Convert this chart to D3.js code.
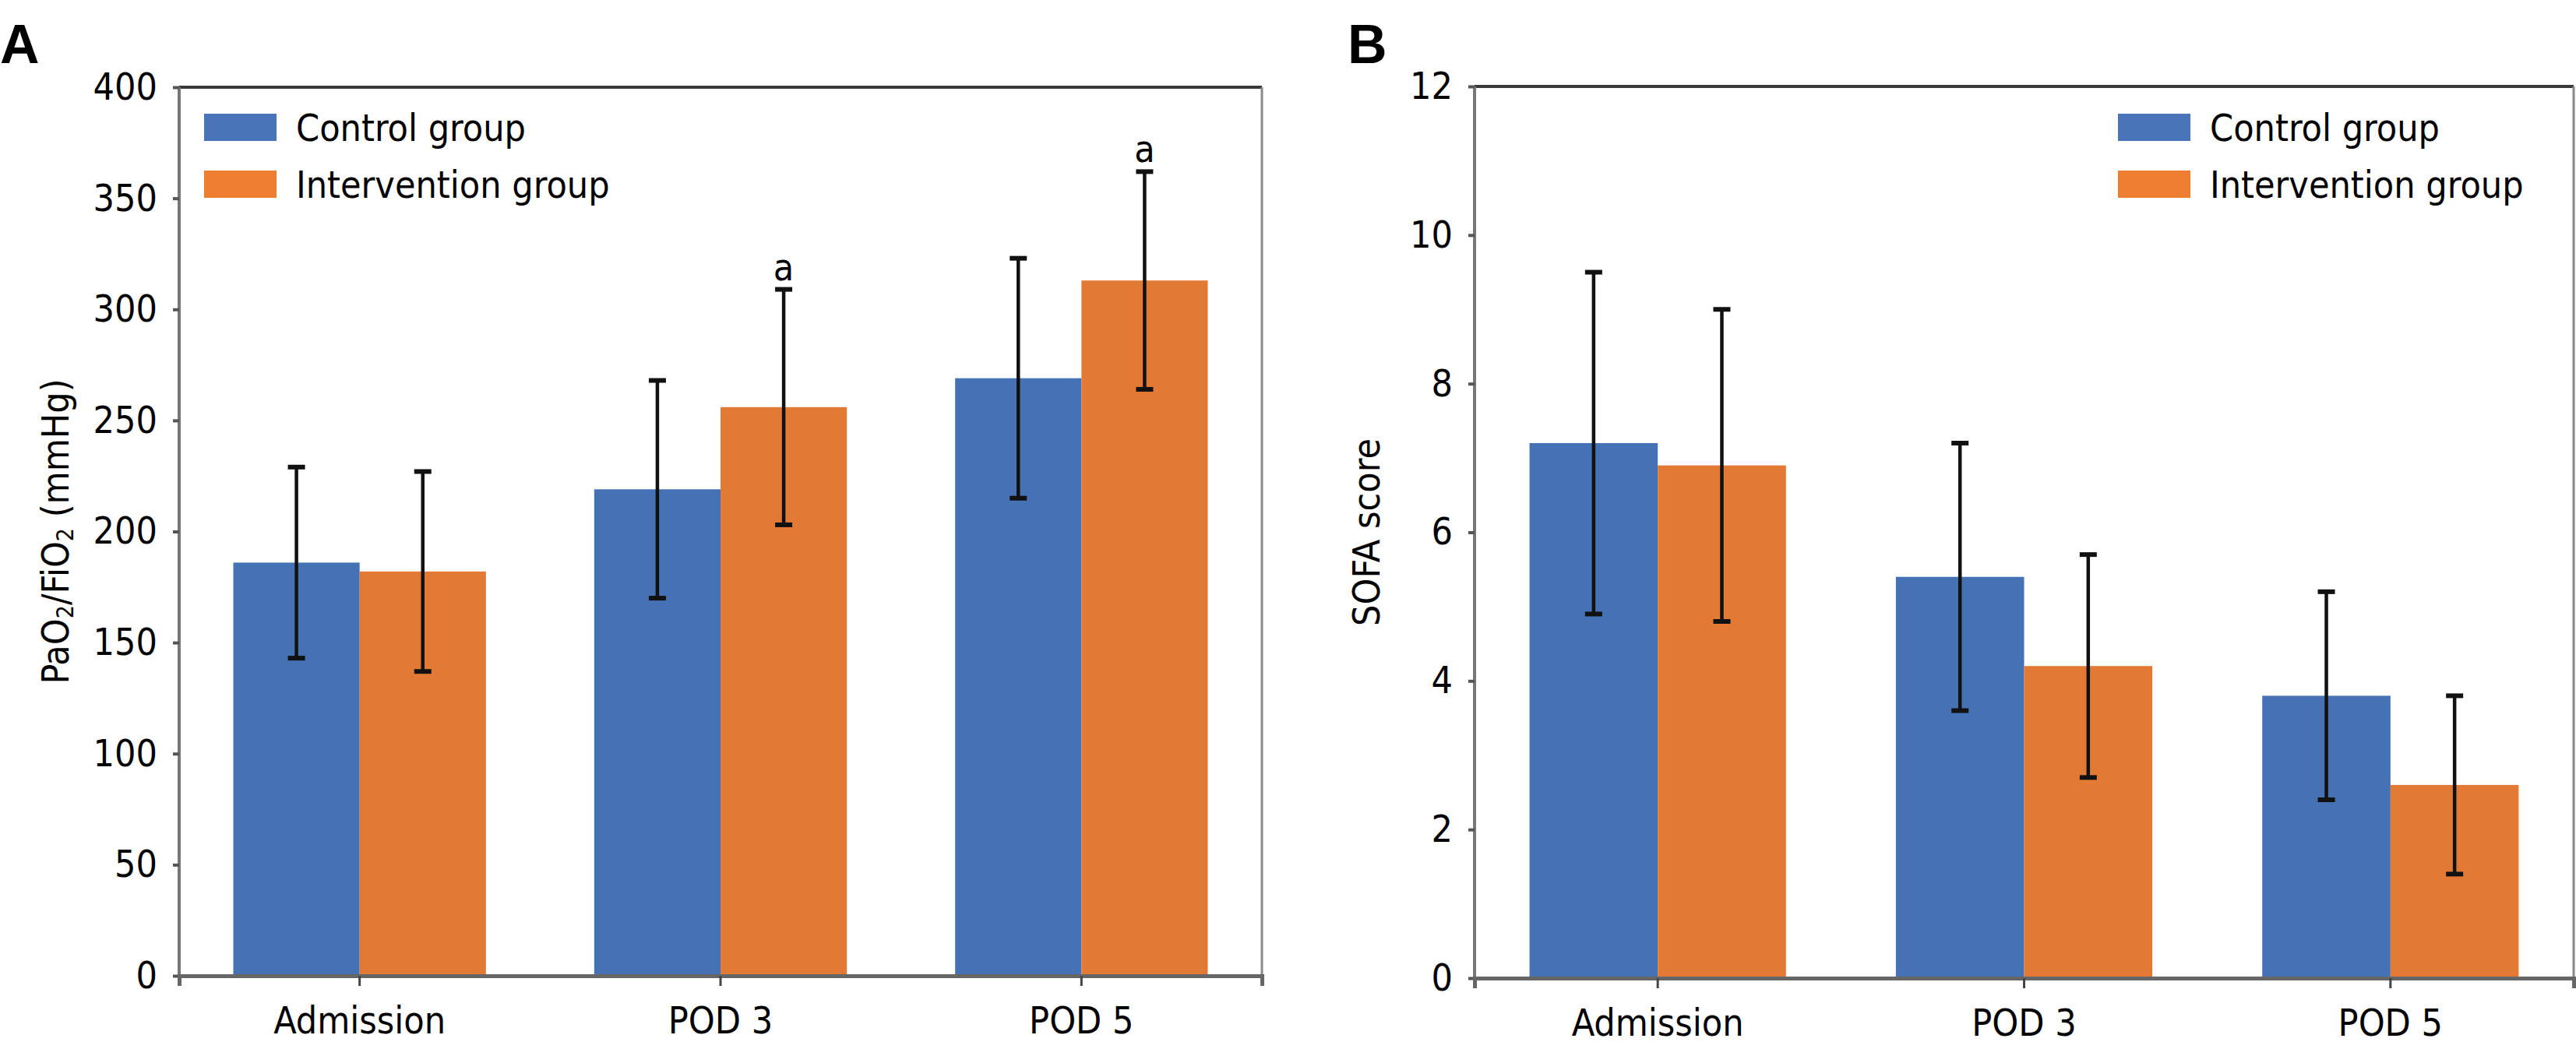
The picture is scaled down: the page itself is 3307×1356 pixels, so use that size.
<!DOCTYPE html>
<html lang="en">
<head>
<meta charset="UTF-8">
<title>PaO2/FiO2 and SOFA score</title>
<style>
  body { margin: 0; background: #fff; }
  svg text { font-family: "DejaVu Sans Condensed", "DejaVu Sans", sans-serif; font-stretch: condensed; fill: #000; }
  .panel-letter { font-family: "Liberation Sans", Arial, sans-serif; font-stretch: normal; font-weight: bold; }
</style>
</head>
<body>
<svg id="chart" width="3307" height="1356"></svg>
<script src="https://cdnjs.cloudflare.com/ajax/libs/d3/7.9.0/d3.min.js"></script>
<script>
// values
const categories = ["Admission", "POD 3", "POD 5"];
const seriesNames = ["Control group", "Intervention group"];

const pfControl = [186, 219, 269];
const pfControlSD = [43, 49, 54];
const pfIntervention = [182, 256, 313];
const pfInterventionSD = [45, 53, 49];
const pfMarks = ["", "a", "a"];          // over intervention bars
const pfTicks = [0, 50, 100, 150, 200, 250, 300, 350, 400];

const sofaControl = [7.2, 5.4, 3.8];
const sofaControlSD = [2.3, 1.8, 1.4];
const sofaIntervention = [6.9, 4.2, 2.6];
const sofaInterventionSD = [2.1, 1.5, 1.2];
const sofaMarks = ["", "", ""];
const sofaTicks = [0, 2, 4, 6, 8, 10, 12];

const barColors = ["#4571b5", "#e27a35"];
const keyColors = ["#4a74b8", "#ec7d31"];

const svg = d3.select("#chart");

function drawPanel(p) {
  const g = svg.append("g");

  const x0 = d3.scaleBand().domain(categories)
    .range([p.left, p.right]).paddingInner(0.3).paddingOuter(0.15);
  const x1 = d3.scaleBand().domain([0, 1]).range([0, x0.bandwidth()]);
  const y = d3.scaleLinear().domain([0, p.max]).range([p.bottom, p.top]);

  const rows = categories.map((c, i) => ({
    cat: c,
    vals: [
      { s: 0, v: p.control[i], e: p.controlSD[i], mark: "" },
      { s: 1, v: p.intervention[i], e: p.interventionSD[i], mark: p.marks[i] }
    ]
  }));

  // bars
  const grp = g.selectAll(".grp").data(rows).enter().append("g")
    .attr("transform", d => `translate(${x0(d.cat)},0)`);
  grp.selectAll("rect").data(d => d.vals).enter().append("rect")
    .attr("x", d => x1(d.s))
    .attr("width", x1.bandwidth())
    .attr("y", d => y(d.v))
    .attr("height", d => y(0) - y(d.v))
    .attr("fill", d => barColors[d.s]);

  // error bars
  const cap = 11;
  const eb = grp.selectAll(".eb").data(d => d.vals).enter().append("g")
    .attr("transform", d => `translate(${x1(d.s) + x1.bandwidth() / 2},0)`)
    .attr("stroke", "#111").attr("stroke-width", 4.5);
  eb.append("line").attr("y1", d => y(d.v - d.e)).attr("y2", d => y(d.v + d.e));
  eb.append("line").attr("x1", -cap).attr("x2", cap)
    .attr("y1", d => y(d.v + d.e)).attr("y2", d => y(d.v + d.e)).attr("stroke-width", 6);
  eb.append("line").attr("x1", -cap).attr("x2", cap)
    .attr("y1", d => y(d.v - d.e)).attr("y2", d => y(d.v - d.e)).attr("stroke-width", 6);

  // significance marks
  grp.selectAll(".mark").data(d => d.vals.filter(v => v.mark)).enter().append("text")
    .attr("x", d => x1(d.s) + x1.bandwidth() / 2)
    .attr("y", d => y(d.v + d.e) - 12)
    .attr("text-anchor", "middle")
    .attr("font-size", 48)
    .text(d => d.mark);

  // frame
  g.append("line").attr("x1", p.left).attr("x2", p.right).attr("y1", p.top).attr("y2", p.top)
    .attr("stroke", "#3a3a3a").attr("stroke-width", 4);
  g.append("line").attr("x1", p.right).attr("x2", p.right).attr("y1", p.top).attr("y2", p.bottom)
    .attr("stroke", "#8a8a8a").attr("stroke-width", 3);
  g.append("line").attr("x1", p.left).attr("x2", p.left).attr("y1", p.top).attr("y2", p.bottom)
    .attr("stroke", "#777", ).attr("stroke-width", 4);

  // y axis
  const yAxis = g.append("g").attr("transform", `translate(${p.left},0)`)
    .call(d3.axisLeft(y).tickValues(p.ticks).tickSize(8).tickPadding(20));
  yAxis.select(".domain").remove();
  yAxis.selectAll(".tick line").attr("stroke", "#555").attr("stroke-width", 4);
  yAxis.selectAll(".tick text").attr("font-size", 48).attr("font-family", null);

  // x axis
  const xAxis = g.append("g").attr("transform", `translate(0,${p.bottom})`)
    .call(d3.axisBottom(x0).tickSize(13).tickPadding(27));
  xAxis.select(".domain").attr("stroke", "#666").attr("stroke-width", 5);
  xAxis.selectAll(".tick line").attr("stroke", "#444").attr("stroke-width", 3);
  xAxis.selectAll(".tick text").attr("font-size", 48).attr("font-family", null);

  // y title
  const title = g.append("text")
    .attr("transform", `translate(${p.titleX},${(p.top + p.bottom) / 2}) rotate(-90)`)
    .attr("text-anchor", "middle")
    .attr("font-size", 48);
  p.title(title);

  // legend
  const lg = g.selectAll(".key").data(seriesNames).enter().append("g")
    .attr("transform", (d, i) => `translate(${p.legendX},${146 + i * 73})`);
  lg.append("rect").attr("width", 93).attr("height", 35).attr("fill", (d, i) => keyColors[i]);
  lg.append("text").attr("x", 118).attr("y", 18).attr("dy", "0.36em")
    .attr("font-size", 48).text(d => d);

  // panel letter
  g.append("text").attr("class", "panel-letter")
    .attr("x", p.letterX).attr("y", 81).attr("font-size", 70).text(p.letter);
}

drawPanel({
  left: 230, right: 1620, top: 112, bottom: 1253, max: 400, ticks: pfTicks,
  control: pfControl, controlSD: pfControlSD,
  intervention: pfIntervention, interventionSD: pfInterventionSD, marks: pfMarks,
  titleX: 88, legendX: 262, letter: "A", letterX: 0,
  title: t => {
    t.append("tspan").text("PaO");
    t.append("tspan").attr("font-size", 30).attr("dy", 6).text("2");
    t.append("tspan").attr("dy", -6).text("/FiO");
    t.append("tspan").attr("font-size", 30).attr("dy", 6).text("2");
    t.append("tspan").attr("dy", -6).text(" (mmHg)");
  }
});

drawPanel({
  left: 1893, right: 3304, top: 111, bottom: 1256, max: 12, ticks: sofaTicks,
  control: sofaControl, controlSD: sofaControlSD,
  intervention: sofaIntervention, interventionSD: sofaInterventionSD, marks: sofaMarks,
  titleX: 1771, legendX: 2719, letter: "B", letterX: 1730,
  title: t => t.text("SOFA score")
});
</script>
</body>
</html>
